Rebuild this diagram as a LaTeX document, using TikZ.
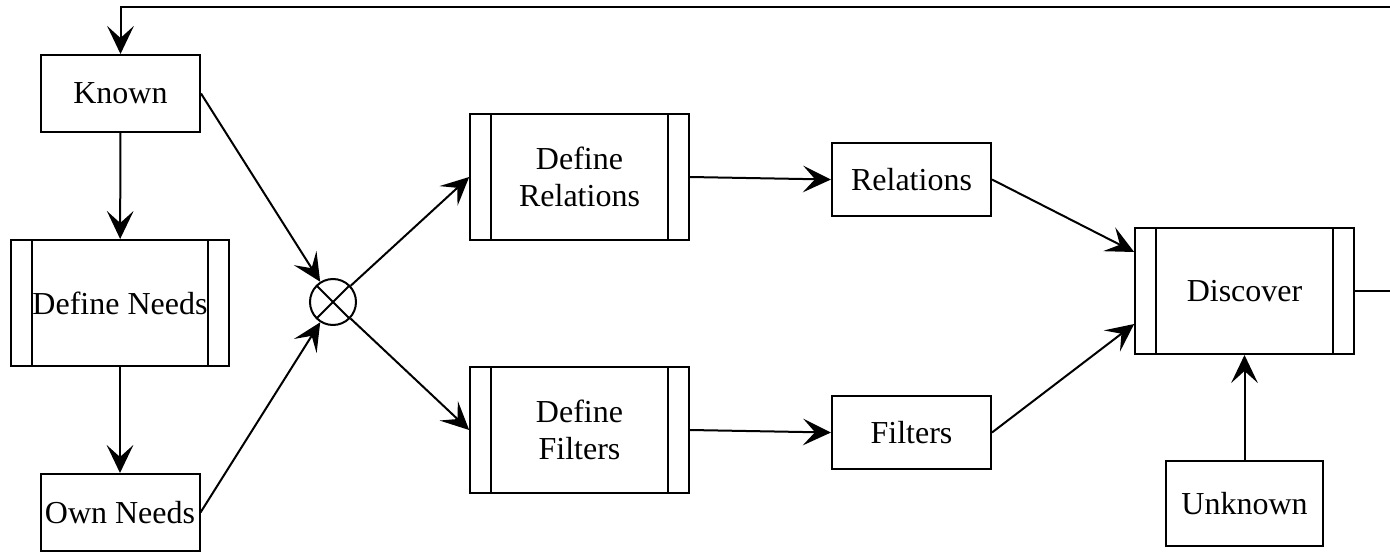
\documentclass[tikz,border=0pt]{standalone}
\usepackage{fontspec}
\setmainfont{Liberation Serif}
\usetikzlibrary{arrows.meta,calc}
\begin{document}
\begin{tikzpicture}[x=0.75pt,y=-0.75pt,
  every node/.style={font=\rmfamily\fontsize{24}{28}\selectfont},
  box/.style={draw, line width=1.5pt, inner sep=0pt, align=center},
  small/.style={box, minimum width=119.25pt, minimum height=57.75pt},
  smaller/.style={box, minimum width=119.25pt, minimum height=54.75pt},
  proc/.style={box, minimum width=164pt, minimum height=94.5pt,
    path picture={
      \draw[line width=1.3pt] ([xshift=15.75pt]path picture bounding box.north west) -- ([xshift=15.75pt]path picture bounding box.south west);
      \draw[line width=1.3pt] ([xshift=-15.75pt]path picture bounding box.north east) -- ([xshift=-15.75pt]path picture bounding box.south east);
    }},
  junction/.style={draw, circle, line width=1.5pt, minimum size=34.5pt, inner sep=0pt,
    path picture={
      \draw[line width=1.5pt] (path picture bounding box.north west) -- (path picture bounding box.south east);
      \draw[line width=1.5pt] (path picture bounding box.north east) -- (path picture bounding box.south west);
    }},
  conn/.style={line width=1.5pt, -{Stealth[length=21pt, width=20pt, inset=9pt]}}
]
\useasboundingbox (0,0) rectangle (1390,553);

\node[small] (known) at (120.5,93.5) {Known};
\node[proc] (defneeds) at (120,303) {Define Needs};
\node[small] (own) at (120,512.5) {Own Needs};
\node[junction] (x) at (333,302) {};
\node[proc] (defrel) at (579.5,177) {Define\\Relations};
\node[proc] (deffil) at (579.5,430) {Define\\Filters};
\node[smaller] (rel) at (911.5,179.5) {Relations};
\node[smaller] (fil) at (911.5,432.5) {Filters};
\node[proc] (disc) at (1244.5,291) {Discover};
\node[box, minimum width=117.75pt, minimum height=63.75pt] (unk) at (1244.5,503.5) {Unknown};

\coordinate (c1) at (1396,291);
\coordinate (c2) at (1396,7);
\coordinate (c3) at (120.5,7);

\draw[conn] (known) -- (defneeds);
\draw[conn] (defneeds) -- (own);
\draw[conn] (known.east) -- (x);
\draw[conn] (own.east) -- (x);
\draw[conn] (x) -- (defrel.west);
\draw[conn] (x) -- (deffil.west);
\draw[conn] (defrel.east) -- (rel.west);
\draw[conn] (deffil.east) -- (fil.west);
\draw[conn] (rel.east) -- ($(disc.west)+(0,-39)$);
\draw[conn] (fil.east) -- ($(disc.west)+(0,33)$);
\draw[conn] (unk) -- (disc);
\draw[conn] (disc.east) -- (c1) -- (c2) -- (c3) -- (known.north);
\end{tikzpicture}
\end{document}
